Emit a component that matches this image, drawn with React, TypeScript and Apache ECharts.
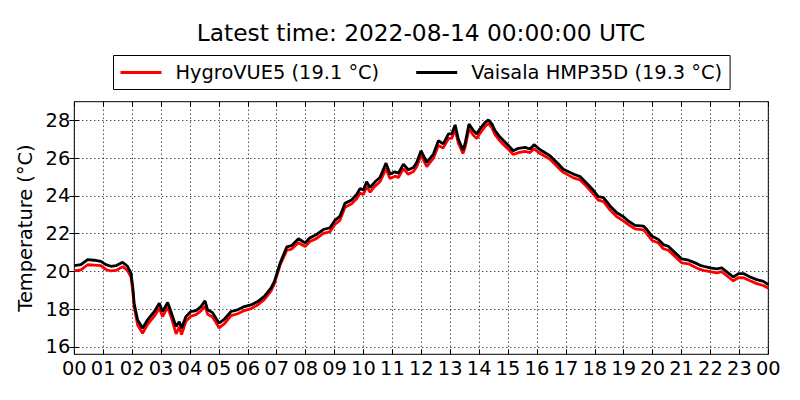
import React, { useEffect, useRef } from "react";
import * as echarts from "echarts";

const titleText = "Latest time: 2022-08-14 00:00:00 UTC";
const seriesNames = ["HygroVUE5 (19.1 °C)", "Vaisala HMP35D (19.3 °C)"];
const yTicks = [16, 18, 20, 22, 24, 26, 28];

const hours = [
  0, 0.23, 0.46, 0.69, 0.92, 1.09, 1.27, 1.44, 1.67, 1.84,
  1.96, 2.02, 2.07, 2.19, 2.36, 2.53, 2.77, 2.94, 3.05, 3.23,
  3.34, 3.52, 3.63, 3.71, 3.86, 4.03, 4.21, 4.38, 4.52, 4.61,
  4.78, 4.9, 5.01, 5.19, 5.42, 5.65, 5.88, 6.11, 6.34, 6.57,
  6.8, 6.92, 7.12, 7.35, 7.52, 7.75, 7.98, 8.15, 8.38, 8.61,
  8.84, 9.02, 9.19, 9.36, 9.59, 9.77, 9.88, 10.0, 10.11, 10.23,
  10.4, 10.57, 10.78, 10.92, 11.09, 11.21, 11.38, 11.55, 11.73, 11.84,
  11.99, 12.19, 12.42, 12.59, 12.76, 12.94, 13.05, 13.17, 13.28, 13.44,
  13.51, 13.65, 13.8, 13.92, 14.03, 14.21, 14.32, 14.44, 14.55, 14.73,
  14.96, 15.18, 15.36, 15.59, 15.76, 15.9, 16.11, 16.45, 16.74, 16.91,
  17.26, 17.49, 17.72, 17.95, 18.12, 18.3, 18.53, 18.76, 18.99, 19.16,
  19.39, 19.68, 19.8, 19.97, 20.2, 20.37, 20.54, 20.78, 21.01, 21.24,
  21.47, 21.64, 21.76, 21.99, 22.22, 22.39, 22.62, 22.79, 22.97, 23.14,
  23.37, 23.6, 23.83, 24.0,
];

const vaisala = [
  20.3, 20.36, 20.62, 20.59, 20.53, 20.36, 20.27, 20.3, 20.48, 20.27,
  19.91, 19.2, 18.31, 17.42, 16.98, 17.42, 17.87, 18.31, 17.87, 18.35,
  17.87, 17.07, 17.33, 16.98, 17.6, 17.87, 17.92, 18.13, 18.44, 17.96,
  17.81, 17.51, 17.25, 17.46, 17.87, 17.96, 18.13, 18.22, 18.4, 18.67,
  19.11, 19.47, 20.45, 21.3, 21.37, 21.73, 21.51, 21.78, 21.96, 22.22,
  22.31, 22.72, 22.93, 23.61, 23.79, 24.09, 24.39, 24.32, 24.75, 24.45,
  24.75, 24.98, 25.74, 25.16, 25.28, 25.21, 25.69, 25.39, 25.51, 25.78,
  26.4, 25.78, 26.22, 26.93, 26.76, 27.29, 27.29, 27.77, 27.02, 26.44,
  26.76, 27.82, 27.47, 27.29, 27.56, 27.91, 28.04, 27.82, 27.47, 27.11,
  26.76, 26.4, 26.53, 26.58, 26.49, 26.72, 26.45, 26.13, 25.69, 25.42,
  25.16, 25.03, 24.68, 24.3, 23.97, 23.91, 23.47, 23.11, 22.9, 22.67,
  22.44, 22.4, 22.22, 21.87, 21.69, 21.42, 21.33, 20.98, 20.66, 20.59,
  20.45, 20.32, 20.27, 20.18, 20.13, 20.18, 19.91, 19.7, 19.88, 19.88,
  19.7, 19.56, 19.47, 19.3,
];

const hygro = [
  20.02, 20.08, 20.35, 20.33, 20.3, 20.1, 20.02, 20.05, 20.25, 20.05,
  19.7, 19.0, 18.1, 17.15, 16.72, 17.18, 17.62, 18.05, 17.6, 18.1,
  17.62, 16.68, 17.05, 16.65, 17.35, 17.62, 17.7, 17.9, 18.15, 17.72,
  17.58, 17.28, 17.0, 17.22, 17.65, 17.75, 17.92, 18.02, 18.22, 18.5,
  18.95, 19.35, 20.35, 21.12, 21.18, 21.52, 21.32, 21.58, 21.75, 22.02,
  22.1, 22.5, 22.72, 23.4, 23.58, 23.86, 24.15, 24.08, 24.5, 24.2,
  24.52, 24.75, 25.45, 24.92, 25.05, 24.98, 25.45, 25.15, 25.3, 25.55,
  26.15, 25.55, 26.0, 26.68, 26.55, 27.05, 27.05, 27.52, 26.8, 26.25,
  26.55, 27.56, 27.22, 27.05, 27.32, 27.7, 27.85, 27.62, 27.25, 26.9,
  26.55, 26.2, 26.3, 26.36, 26.3, 26.5, 26.25, 25.95, 25.5, 25.25,
  24.96, 24.85, 24.5, 24.1, 23.78, 23.7, 23.25, 22.9, 22.68, 22.48,
  22.25, 22.2, 22.0, 21.65, 21.5, 21.2, 21.12, 20.78, 20.45, 20.4,
  20.22, 20.1, 20.05, 19.98, 19.92, 19.98, 19.7, 19.5, 19.66, 19.66,
  19.5, 19.35, 19.25, 19.1,
];

const FONT = "DejaVu Sans";
const FS = 19.4;

export default function App() {
  const ref = useRef<HTMLDivElement>(null);

  useEffect(() => {
    document.body.style.margin = "0";
    if (!ref.current) return;
    const chart = echarts.init(ref.current, null, { renderer: "svg" });
    const hourFmt = (v: number) => {
      const h = Math.round(v) % 24;
      return h < 10 ? "0" + h : String(h);
    };
    const tickStyle = { show: true, inside: true, length: 5, lineStyle: { color: "#000", width: 1 } };
    const dotted = { show: true, lineStyle: { color: "#000", width: 1, type: [1, 3] as any } };

    chart.setOption({
      animation: false,
      backgroundColor: "#fff",
      textStyle: { fontFamily: FONT, color: "#000" },
      title: {
        text: titleText,
        left: 421,
        top: 21,
        textAlign: "center",
        padding: 0,
        textStyle: { fontFamily: FONT, fontSize: 23.3, fontWeight: "normal", color: "#000" },
      },
      legend: {
        left: 113.5,
        top: 55.5,
        padding: [7.5, 8, 7.5, 7],
        itemWidth: 41,
        itemHeight: 2.8,
        itemGap: 37,
        icon: "rect",
        borderColor: "#000",
        borderWidth: 1,
        borderRadius: 0,
        backgroundColor: "#fff",
        data: seriesNames,
        textStyle: { fontFamily: FONT, fontSize: FS, color: "#000", padding: [0, 0, 0, 9] },
      },
      grid: {
        left: 74.3,
        right: 31.7,
        top: 101.7,
        bottom: 45.7,
        show: true,
        borderColor: "#000",
        borderWidth: 1,
        backgroundColor: "transparent",
      },
      xAxis: [
        {
          type: "value",
          min: 0,
          max: 24,
          interval: 1,
          axisLine: { show: false },
          axisTick: tickStyle,
          splitLine: dotted,
          axisLabel: {
            fontFamily: FONT,
            fontSize: FS,
            color: "#000",
            margin: 5,
            formatter: hourFmt,
            hideOverlap: false,
          },
        },
        {
          type: "value",
          position: "top",
          min: 0,
          max: 24,
          interval: 1,
          axisLine: { show: false },
          axisTick: tickStyle,
          splitLine: { show: false },
          axisLabel: { show: false },
        },
      ],
      yAxis: [
        {
          type: "value",
          min: 15.6,
          max: 29,
          axisLine: { show: false },
          axisTick: { ...tickStyle, customValues: yTicks },
          splitLine: dotted,
          axisLabel: {
            fontFamily: FONT,
            fontSize: FS,
            color: "#000",
            margin: 4,
            customValues: yTicks,
          },
          name: "Temperature (°C)",
          nameLocation: "middle",
          nameGap: 31,
          nameTextStyle: { fontFamily: FONT, fontSize: FS, color: "#000" },
        },
        {
          type: "value",
          position: "right",
          min: 15.6,
          max: 29,
          axisLine: { show: false },
          axisTick: { ...tickStyle, customValues: yTicks },
          splitLine: { show: false },
          axisLabel: { show: false, customValues: yTicks },
        },
      ],
      series: [
        {
          name: seriesNames[0],
          type: "line",
          data: hours.map((h, i) => [h, hygro[i]]),
          showSymbol: false,
          symbol: "none",
          lineStyle: { color: "#ff0000", width: 2.8 },
          itemStyle: { color: "#ff0000" },
          z: 2,
        },
        {
          name: seriesNames[1],
          type: "line",
          data: hours.map((h, i) => [h, vaisala[i]]),
          showSymbol: false,
          symbol: "none",
          lineStyle: { color: "#000000", width: 2.8 },
          itemStyle: { color: "#000000" },
          z: 3,
        },
      ],
    });
    return () => chart.dispose();
  }, []);

  return <div ref={ref} style={{ width: 800, height: 400 }} />;
}
